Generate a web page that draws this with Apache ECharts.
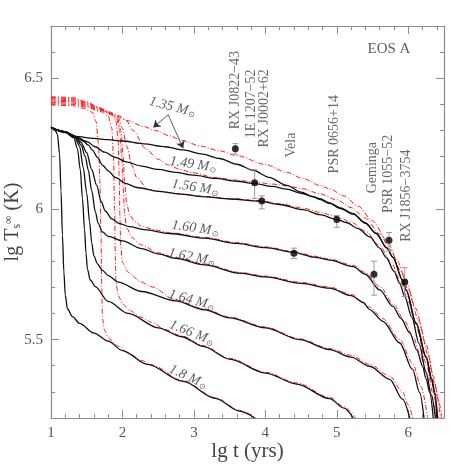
<!DOCTYPE html>
<html>
<head>
<meta charset="utf-8">
<script src="https://cdn.jsdelivr.net/npm/echarts@6/dist/echarts.min.js"></script>
<style>
html, body { margin: 0; padding: 0; background: #fff; }
#chart { width: 469px; height: 469px; }
</style>
</head>
<body>
<div id="chart"></div>
<script>
// cooling curves: lg t (yrs) against lg Ts (K), EOS A
// black = solid model, red dash-dot = second model, same masses
const masses = ['1.35', '1.49', '1.56', '1.60', '1.62', '1.64', '1.66', '1.8'];

const black135 = [[1,6.312],[1.2,6.295],[1.34,6.278],[1.6,6.27],[1.8,6.265],[2.0,6.26],[2.3,6.249],[2.6,6.238],[2.85,6.226],[3.1,6.211],[3.36,6.193],[3.6,6.171],[3.83,6.148],[4.05,6.121],[4.3,6.09],[4.5,6.064],[4.67,6.046],[4.76,6.037],[4.9,6.021],[5.05,6.001],[5.23,5.98],[5.4,5.945],[5.55,5.906],[5.7,5.85],[5.785,5.815],[5.92,5.728],[5.97,5.69],[6.11,5.564],[6.25,5.436],[6.33,5.35],[6.37,5.3],[6.41,5.2]];
const black149 = [[1,6.312],[1.2,6.295],[1.34,6.278],[1.5,6.258],[1.62,6.238],[1.75,6.217],[1.9,6.197],[2.05,6.18],[2.27,6.164],[2.5,6.151],[2.74,6.14],[3.0,6.129],[3.3,6.117],[3.6,6.106],[3.83,6.098],[4.1,6.086],[4.3,6.076],[4.5,6.06],[4.67,6.047],[4.76,6.039],[4.9,6.023],[5.05,6.004],[5.23,5.982],[5.4,5.947],[5.55,5.907],[5.7,5.851],[5.785,5.815],[5.92,5.727],[5.97,5.688],[6.11,5.56],[6.25,5.43],[6.33,5.34],[6.37,5.29],[6.4,5.2]];
const black156 = [[1,6.312],[1.2,6.295],[1.34,6.278],[1.45,6.26],[1.52,6.245],[1.58,6.225],[1.65,6.197],[1.72,6.168],[1.8,6.146],[1.9,6.121],[2.04,6.098],[2.2,6.082],[2.5,6.067],[2.8,6.057],[3.15,6.046],[3.5,6.038],[3.92,6.03],[4.2,6.017],[4.53,5.997],[4.76,5.978],[5.0,5.96],[5.13,5.948],[5.3,5.925],[5.46,5.893],[5.6,5.85],[5.69,5.815],[5.8,5.762],[5.88,5.715],[5.95,5.665],[6.05,5.585],[6.15,5.485],[6.25,5.375],[6.32,5.29],[6.38,5.2]];
const black160 = [[1,6.312],[1.2,6.295],[1.34,6.277],[1.42,6.255],[1.5,6.215],[1.57,6.15],[1.64,6.09],[1.7,6.03],[1.76,5.992],[1.85,5.962],[1.95,5.945],[2.1,5.932],[2.3,5.921],[2.66,5.906],[3.15,5.888],[3.6,5.868],[4.0,5.852],[4.39,5.834],[4.7,5.815],[4.9,5.804],[5.23,5.779],[5.4,5.75],[5.6,5.69],[5.785,5.627],[5.9,5.58],[6.02,5.526],[6.12,5.46],[6.2,5.398],[6.25,5.35],[6.3,5.297],[6.35,5.2]];
const black162 = [[1,6.312],[1.2,6.295],[1.34,6.276],[1.42,6.245],[1.48,6.2],[1.52,6.15],[1.57,6.07],[1.62,5.99],[1.66,5.945],[1.72,5.912],[1.8,5.895],[2.0,5.878],[2.27,5.848],[2.5,5.828],[2.74,5.811],[3.15,5.786],[3.64,5.754],[4.0,5.74],[4.5,5.715],[4.9,5.697],[5.2,5.668],[5.37,5.642],[5.46,5.615],[5.645,5.57],[5.88,5.487],[6.06,5.386],[6.16,5.297],[6.22,5.2]];
const black164 = [[1,6.312],[1.2,6.294],[1.33,6.275],[1.4,6.24],[1.45,6.16],[1.5,6.06],[1.54,5.95],[1.57,5.87],[1.6,5.82],[1.65,5.79],[1.72,5.765],[1.8,5.745],[1.94,5.72],[2.27,5.684],[2.74,5.648],[3.15,5.614],[3.5,5.583],[4.0,5.545],[4.48,5.5],[4.9,5.462],[5.2,5.433],[5.46,5.398],[5.74,5.348],[5.92,5.272],[6.02,5.2]];
const black166 = [[1,6.312],[1.2,6.292],[1.32,6.272],[1.37,6.23],[1.41,6.15],[1.44,6.04],[1.47,5.92],[1.49,5.83],[1.51,5.77],[1.55,5.728],[1.62,5.703],[1.8,5.646],[2.08,5.6],[2.5,5.545],[2.83,5.511],[3.13,5.474],[3.5,5.425],[4.0,5.372],[4.44,5.33],[4.9,5.274],[5.1,5.238],[5.23,5.2]];
const black180 = [[1,6.312],[1.05,6.305],[1.09,6.285],[1.12,6.21],[1.14,6.07],[1.16,5.9],[1.18,5.76],[1.2,5.67],[1.23,5.618],[1.3,5.588],[1.4,5.562],[1.6,5.525],[1.8,5.494],[2.0,5.458],[2.35,5.405],[2.85,5.34],[3.3,5.275],[3.64,5.226],[3.85,5.2]];

const red135 = [[1,6.43],[1.3,6.426],[1.5,6.41],[1.65,6.39],[1.76,6.373],[1.9,6.356],[2.08,6.337],[2.3,6.315],[2.46,6.3],[2.66,6.28],[2.83,6.262],[3.1,6.24],[3.36,6.222],[3.6,6.204],[4.0,6.17],[4.3,6.14],[4.53,6.116],[4.76,6.09],[4.9,6.077],[5.1,6.05],[5.3,6.01],[5.5,5.955],[5.7,5.88],[5.85,5.8],[5.95,5.74],[6.1,5.62],[6.25,5.48],[6.35,5.36],[6.42,5.27],[6.47,5.2]];
const red149 = [[1,6.427],[1.3,6.422],[1.5,6.407],[1.65,6.39],[1.8,6.372],[1.95,6.357],[2.04,6.343],[2.15,6.3],[2.32,6.232],[2.5,6.19],[2.64,6.168],[2.8,6.152],[2.97,6.139],[3.3,6.12],[3.6,6.11],[3.85,6.103],[4.1,6.095],[4.3,6.088],[4.53,6.077],[4.76,6.058],[5.0,6.035],[5.2,6.005],[5.4,5.965],[5.6,5.905],[5.75,5.845],[5.9,5.76],[6.0,5.69],[6.15,5.57],[6.28,5.44],[6.37,5.33],[6.45,5.2]];
const red156 = [[1,6.423],[1.3,6.418],[1.5,6.404],[1.7,6.384],[1.85,6.366],[1.94,6.35],[2.0,6.31],[2.06,6.24],[2.13,6.168],[2.2,6.12],[2.36,6.075],[2.55,6.066],[2.8,6.058],[3.15,6.048],[3.5,6.04],[3.92,6.032],[4.2,6.02],[4.53,6.003],[4.76,5.987],[5.0,5.97],[5.2,5.95],[5.4,5.915],[5.6,5.86],[5.75,5.8],[5.9,5.72],[6.0,5.645],[6.12,5.54],[6.25,5.41],[6.35,5.29],[6.42,5.2]];
const red160 = [[1,6.418],[1.3,6.414],[1.5,6.4],[1.7,6.38],[1.85,6.364],[1.93,6.345],[1.98,6.3],[2.01,6.2],[2.03,6.1],[2.06,6.02],[2.1,5.977],[2.17,5.952],[2.27,5.934],[2.45,5.92],[2.66,5.909],[3.15,5.891],[3.6,5.871],[4.0,5.855],[4.39,5.837],[4.7,5.819],[4.9,5.808],[5.23,5.784],[5.4,5.757],[5.6,5.703],[5.8,5.633],[5.95,5.57],[6.07,5.51],[6.17,5.44],[6.25,5.37],[6.32,5.29],[6.39,5.2]];
const red162 = [[1,6.413],[1.3,6.41],[1.5,6.397],[1.7,6.378],[1.85,6.363],[1.92,6.345],[1.96,6.3],[1.99,6.2],[2.01,6.08],[2.03,5.98],[2.06,5.927],[2.13,5.89],[2.27,5.862],[2.5,5.832],[2.74,5.814],[3.15,5.789],[3.64,5.757],[4.0,5.743],[4.5,5.719],[4.9,5.701],[5.2,5.673],[5.46,5.624],[5.645,5.58],[5.88,5.5],[6.06,5.41],[6.18,5.32],[6.27,5.2]];
const red164 = [[1,6.408],[1.3,6.405],[1.5,6.393],[1.7,6.376],[1.85,6.36],[1.91,6.335],[1.94,6.26],[1.955,6.12],[1.965,5.97],[1.975,5.86],[2.0,5.795],[2.08,5.758],[2.25,5.722],[2.41,5.702],[2.74,5.652],[3.15,5.617],[3.5,5.586],[4.0,5.548],[4.48,5.503],[4.9,5.466],[5.2,5.44],[5.46,5.405],[5.74,5.36],[5.92,5.3],[6.0,5.25],[6.06,5.2]];
const red166 = [[1,6.403],[1.3,6.4],[1.5,6.389],[1.7,6.372],[1.8,6.355],[1.85,6.31],[1.875,6.2],[1.89,6.0],[1.9,5.82],[1.91,5.72],[1.94,5.668],[2.0,5.637],[2.1,5.612],[2.25,5.587],[2.41,5.566],[2.6,5.538],[2.83,5.514],[3.13,5.477],[3.5,5.428],[4.0,5.375],[4.44,5.334],[4.9,5.279],[5.1,5.243],[5.26,5.2]];
const red180 = [[1,6.398],[1.3,6.395],[1.45,6.385],[1.58,6.37],[1.63,6.335],[1.665,6.25],[1.685,6.1],[1.7,5.9],[1.71,5.7],[1.72,5.58],[1.75,5.535],[1.8,5.51],[1.87,5.49],[1.94,5.475],[2.1,5.445],[2.27,5.42],[2.4,5.404],[2.85,5.342],[3.3,5.278],[3.64,5.229],[3.87,5.2]];

const blackCurves = [black135, black149, black156, black160, black162, black164, black166, black180];
const redCurves = [red135, red149, red156, red160, red162, red164, red166, red180];

// observed sources: lg t, lg Ts, error range
const sources = ['RX J0822\u221243', '1E 1207\u221252', 'RX J0002+62', 'Vela', 'PSR 0656+14', 'Geminga', 'PSR 1055\u221252', 'RX J1856\u22123754'];
const obsAge = [3.58, 3.85, 3.95, 4.40, 5.00, 5.52, 5.73, 5.95];
const obsTemp = [6.23, 6.10, 6.03, 5.83, 5.96, 5.75, 5.88, 5.72];
const obsLow = [6.21, 6.04, 6.00, 5.81, 5.93, 5.67, 5.84, 5.665];
const obsHigh = [6.25, 6.15, 6.05, 5.85, 5.975, 5.80, 5.91, 5.775];
const sourceLabelAt = [[3.575, 6.305], [3.80, 6.27], [3.98, 6.235], [4.37, 6.197], [4.97, 6.136], [5.49, 6.06], [5.72, 5.984], [5.97, 5.874]];

const massLabelAt = [[2.70, 6.39], [2.99, 6.17], [3.02, 6.082], [3.02, 5.926], [2.97, 5.815], [2.97, 5.651], [2.97, 5.525], [2.92, 5.357]];
const massLabelTilt = [-14, -8, -9, -8, -11, -15, -22, -25];
const arrowFrom = [2.64, 6.36];
const arrowTo = [[2.43, 6.312], [2.85, 6.232]];
const eosLabelAt = [5.73, 6.613];

const xMajor = [1, 2, 3, 4, 5, 6];
const xMinor = [1.2, 1.4, 1.6, 1.8, 2.2, 2.4, 2.6, 2.8, 3.2, 3.4, 3.6, 3.8, 4.2, 4.4, 4.6, 4.8, 5.2, 5.4, 5.6, 5.8, 6.2, 6.4];
const yMajor = [5.5, 6, 6.5];
const yMinor = [5.3, 5.4, 5.6, 5.7, 5.8, 5.9, 6.1, 6.2, 6.3, 6.4, 6.6];

const serif = "'Liberation Serif', 'DejaVu Serif', serif";
const frameColor = '#8c8c8c';

let myChart = echarts.init(document.getElementById('chart'));

function makeAxis(pos, min, max, ticks, len, showLine, labels, extra) {
    return Object.assign({
        type: 'value',
        position: pos,
        min: min,
        max: max,
        axisLine: { show: showLine, onZero: false, lineStyle: { color: frameColor, width: 1.2 } },
        axisTick: { show: true, inside: true, length: len, customValues: ticks, lineStyle: { color: frameColor, width: 1 } },
        axisLabel: labels
            ? { show: true, customValues: labels, margin: 8, color: '#555', fontFamily: serif, fontSize: 15 }
            : { show: false },
        splitLine: { show: false }
    }, extra || {});
}

let series = [];
redCurves.forEach((d, i) => {
    series.push({
        type: 'line', name: 'red ' + masses[i], data: d, showSymbol: false,
        smooth: 0.3, smoothMonotone: 'x', z: 2,
        lineStyle: { color: '#ff1a1a', width: 1, type: [5, 2, 1, 2] }
    });
});
blackCurves.forEach((d, i) => {
    series.push({
        type: 'line', name: masses[i], data: d, showSymbol: false,
        smooth: 0.3, smoothMonotone: 'x', z: 3,
        lineStyle: { color: '#111', width: 1.3 }
    });
});
// error bars
series.push({
    type: 'custom', z: 4,
    data: obsAge.map((t, i) => [t, obsLow[i], obsHigh[i]]),
    encode: { x: 0, y: [1, 2] },
    renderItem: function (params, api) {
        const a = api.coord([api.value(0), api.value(1)]);
        const b = api.coord([api.value(0), api.value(2)]);
        const st = { stroke: '#9a9a9a', lineWidth: 1 };
        return { type: 'group', children: [
            { type: 'line', shape: { x1: a[0], y1: a[1], x2: b[0], y2: b[1] }, style: st },
            { type: 'line', shape: { x1: a[0] - 3, y1: a[1], x2: a[0] + 3, y2: a[1] }, style: st },
            { type: 'line', shape: { x1: b[0] - 3, y1: b[1], x2: b[0] + 3, y2: b[1] }, style: st }
        ] };
    }
});
series.push({
    type: 'scatter', z: 5, symbolSize: 7,
    itemStyle: { color: '#000' },
    data: obsAge.map((t, i) => [t, obsTemp[i]])
});
// source names
series.push({
    type: 'scatter', z: 6, symbolSize: 1, silent: true,
    itemStyle: { color: 'rgba(0,0,0,0)' },
    data: sourceLabelAt.map((p, i) => ({ value: p, name: sources[i] })),
    label: {
        show: true, formatter: '{b}', position: 'inside', rotate: 90,
        align: 'left', verticalAlign: 'middle',
        fontFamily: serif, fontSize: 14, color: '#444'
    }
});
// mass labels
series.push({
    type: 'scatter', z: 6, symbolSize: 1, silent: true,
    itemStyle: { color: 'rgba(0,0,0,0)' },
    data: massLabelAt.map((p, i) => ({
        value: p, name: masses[i],
        label: { rotate: massLabelTilt[i] }
    })),
    label: {
        show: true, position: 'inside', align: 'center', verticalAlign: 'middle',
        formatter: p => '{m|' + p.name + ' M}{s|\u2299}',
        rich: {
            m: { fontFamily: serif, fontStyle: 'italic', fontSize: 14, color: '#333' },
            s: { fontFamily: "'DejaVu Sans', sans-serif", fontSize: 8, color: '#333', verticalAlign: 'bottom', padding: [6, 0, 0, 1] }
        }
    }
});
series.push({
    type: 'scatter', z: 6, symbolSize: 1, silent: true,
    itemStyle: { color: 'rgba(0,0,0,0)' },
    data: [{ value: eosLabelAt, name: 'EOS A' }],
    label: { show: true, formatter: '{b}', position: 'inside', fontFamily: serif, fontSize: 15, color: '#333' }
});
// arrows to the 1.35 curves
series.push({
    type: 'lines', coordinateSystem: 'cartesian2d', z: 6,
    symbol: ['none', 'arrow'], symbolSize: 7,
    lineStyle: { color: '#333', width: 0.8, opacity: 1 },
    data: arrowTo.map(p => ({ coords: [arrowFrom, p] }))
});

myChart.setOption({
    animation: false,
    grid: { left: 51, right: 25, top: 26, bottom: 51, outerBoundsMode: 'none', containLabel: false },
    xAxis: [
        makeAxis('bottom', 1, 6.5, xMajor, 8, true, xMajor, {
            name: 'lg t (yrs)', nameLocation: 'middle', nameGap: 23, nameMoveOverlap: false,
            nameTextStyle: { fontFamily: serif, fontSize: 21, color: '#444' }
        }),
        makeAxis('bottom', 1, 6.5, xMinor, 4, false, null),
        makeAxis('top', 1, 6.5, xMajor, 8, true, null),
        makeAxis('top', 1, 6.5, xMinor, 4, false, null)
    ],
    yAxis: [
        makeAxis('left', 5.2, 6.7, yMajor, 8, true, yMajor, {
            name: '{a|lg T}{s|s}{i|\u221e}{a| (K)}', nameLocation: 'middle', nameGap: 28, nameMoveOverlap: false,
            nameTextStyle: {
                rich: {
                    a: { fontFamily: serif, fontSize: 20, color: '#444' },
                    s: { fontFamily: serif, fontSize: 12, color: '#444', verticalAlign: 'bottom' },
                    i: { fontFamily: serif, fontSize: 12, color: '#444', verticalAlign: 'top' }
                }
            }
        }),
        makeAxis('left', 5.2, 6.7, yMinor, 4, false, null),
        makeAxis('right', 5.2, 6.7, yMajor, 8, true, null),
        makeAxis('right', 5.2, 6.7, yMinor, 4, false, null)
    ],
    series: series
});
</script>
</body>
</html>
